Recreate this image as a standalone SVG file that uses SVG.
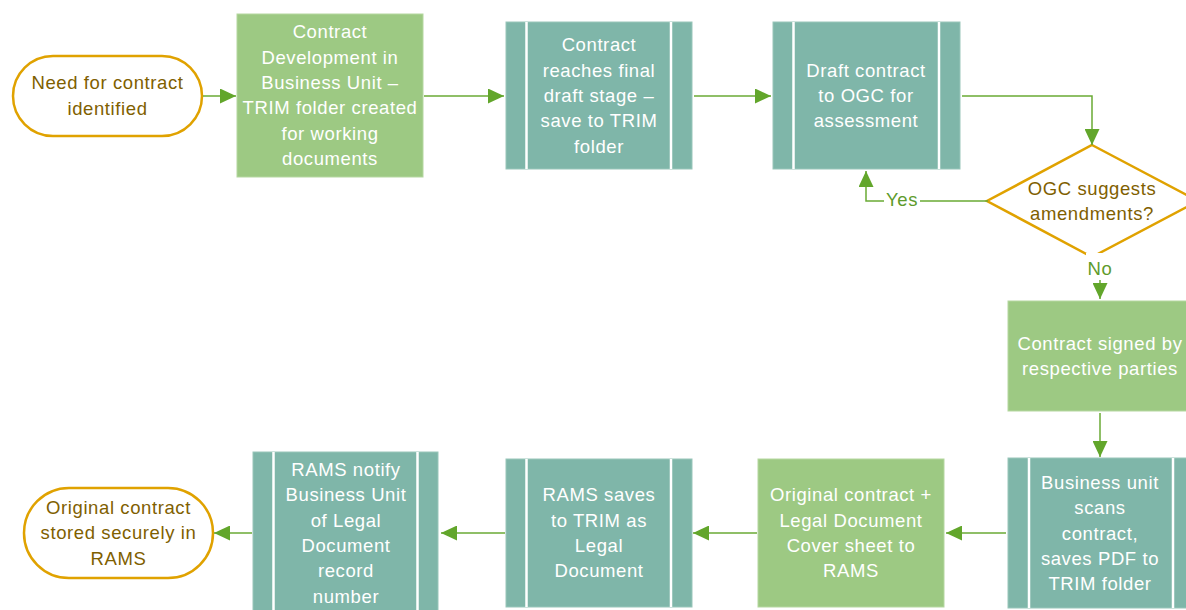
<svg xmlns="http://www.w3.org/2000/svg" width="1186" height="610" viewBox="0 0 1186 610">
<defs>
<style>
text{font-family:"Liberation Sans",Arial,sans-serif;font-size:18.5px;letter-spacing:0.6px;text-anchor:middle}
.w{fill:#ffffff}
.b{fill:#7F6000}
.g{fill:#5E9B2C}
.term{fill:#ffffff;stroke:#E0A200;stroke-width:2.5}
.dec{fill:#ffffff;stroke:#E0A200;stroke-width:2.5}
.proc{fill:#9DC983;stroke:#B5D7A0;stroke-width:1}
.pre{fill:#7FB6A9;stroke:#99C6BA;stroke-width:1}
.sep{stroke:#ffffff;stroke-width:2.5}
.con{fill:none;stroke:#6AAA35;stroke-width:1.5}
</style>
<marker id="ah" markerUnits="userSpaceOnUse" markerWidth="16" markerHeight="15" refX="16" refY="7.5" orient="auto">
<path d="M0,0 L16,7.5 L0,15 z" fill="#62A62B"/>
</marker>
</defs>
<rect width="1186" height="610" fill="#ffffff"/>

<g id="n1">
<rect class="term" x="13" y="56" width="189" height="80" rx="40" ry="40"/>
<text class="b" x="107.5" y="89">Need for contract</text>
<text class="b" x="107.5" y="114.5">identified</text>
</g>

<g id="n2">
<rect class="proc" x="237" y="14" width="186" height="163"/>
<text class="w" x="330" y="38">Contract</text>
<text class="w" x="330" y="63.5">Development in</text>
<text class="w" x="330" y="89">Business Unit –</text>
<text class="w" x="330" y="114">TRIM folder created</text>
<text class="w" x="330" y="139.5">for working</text>
<text class="w" x="330" y="165">documents</text>
</g>

<g id="n3">
<rect class="pre" x="506" y="22" width="186" height="147"/>
<line class="sep" x1="526.5" y1="22" x2="526.5" y2="169"/>
<line class="sep" x1="671" y1="22" x2="671" y2="169"/>
<text class="w" x="599" y="51">Contract</text>
<text class="w" x="599" y="76.5">reaches final</text>
<text class="w" x="599" y="102">draft stage –</text>
<text class="w" x="599" y="127">save to TRIM</text>
<text class="w" x="599" y="152.5">folder</text>
</g>

<g id="n4">
<rect class="pre" x="773" y="22" width="187" height="147"/>
<line class="sep" x1="793.5" y1="22" x2="793.5" y2="169"/>
<line class="sep" x1="939" y1="22" x2="939" y2="169"/>
<text class="w" x="866" y="76.5">Draft contract</text>
<text class="w" x="866" y="102">to OGC for</text>
<text class="w" x="866" y="127">assessment</text>
</g>

<g id="n5">
<polygon class="dec" points="1092,145 1198,201 1092,257 987,201"/>
<text class="b" x="1092" y="195">OGC suggests</text>
<text class="b" x="1092" y="220">amendments?</text>
</g>

<g id="n6">
<rect class="proc" x="1008" y="301" width="184" height="110"/>
<text class="w" x="1100" y="350">Contract signed by</text>
<text class="w" x="1100" y="375">respective parties</text>
</g>

<g id="n7">
<rect class="pre" x="1008" y="458" width="184" height="150"/>
<line class="sep" x1="1029" y1="458" x2="1029" y2="608"/>
<line class="sep" x1="1173" y1="458" x2="1173" y2="608"/>
<text class="w" x="1100" y="489">Business unit</text>
<text class="w" x="1100" y="514">scans</text>
<text class="w" x="1100" y="539.5">contract,</text>
<text class="w" x="1100" y="565">saves PDF to</text>
<text class="w" x="1100" y="590">TRIM folder</text>
</g>

<g id="n8">
<rect class="proc" x="758" y="459" width="186" height="148"/>
<text class="w" x="851" y="501">Original contract +</text>
<text class="w" x="851" y="526.5">Legal Document</text>
<text class="w" x="851" y="552">Cover sheet to</text>
<text class="w" x="851" y="577">RAMS</text>
</g>

<g id="n9">
<rect class="pre" x="506" y="459" width="186" height="148"/>
<line class="sep" x1="526.5" y1="459" x2="526.5" y2="607"/>
<line class="sep" x1="671" y1="459" x2="671" y2="607"/>
<text class="w" x="599" y="501">RAMS saves</text>
<text class="w" x="599" y="526.5">to TRIM as</text>
<text class="w" x="599" y="552">Legal</text>
<text class="w" x="599" y="577">Document</text>
</g>

<g id="n10">
<rect class="pre" x="253" y="452" width="185" height="162"/>
<line class="sep" x1="273.5" y1="452" x2="273.5" y2="614"/>
<line class="sep" x1="417.5" y1="452" x2="417.5" y2="614"/>
<text class="w" x="346" y="475.5">RAMS notify</text>
<text class="w" x="346" y="501">Business Unit</text>
<text class="w" x="346" y="526.5">of Legal</text>
<text class="w" x="346" y="552">Document</text>
<text class="w" x="346" y="577">record</text>
<text class="w" x="346" y="602.5">number</text>
</g>

<g id="n11">
<rect class="term" x="24" y="488" width="189" height="90" rx="45" ry="45"/>
<text class="b" x="118.5" y="514">Original contract</text>
<text class="b" x="118.5" y="539">stored securely in</text>
<text class="b" x="118.5" y="564.5">RAMS</text>
</g>

<g id="connectors">
<line class="con" x1="203" y1="96" x2="236" y2="96" marker-end="url(#ah)"/>
<line class="con" x1="424" y1="96" x2="504" y2="96" marker-end="url(#ah)"/>
<line class="con" x1="694" y1="96" x2="771" y2="96" marker-end="url(#ah)"/>
<polyline class="con" points="962,96 1092,96 1092,145" marker-end="url(#ah)"/>
<polyline class="con" points="988,201 866,201 866,171" marker-end="url(#ah)"/>
<line class="con" x1="1100" y1="258" x2="1100" y2="299" marker-end="url(#ah)"/>
<line class="con" x1="1100" y1="413" x2="1100" y2="457" marker-end="url(#ah)"/>
<line class="con" x1="1006" y1="533" x2="946" y2="533" marker-end="url(#ah)"/>
<line class="con" x1="757" y1="533" x2="693" y2="533" marker-end="url(#ah)"/>
<line class="con" x1="505" y1="533" x2="441" y2="533" marker-end="url(#ah)"/>
<line class="con" x1="252" y1="533" x2="214" y2="533" marker-end="url(#ah)"/>
<rect x="884" y="190" width="36" height="20" fill="#ffffff"/>
<text class="g" x="902" y="206">Yes</text>
<rect x="1086" y="253" width="28" height="27" fill="#ffffff"/>
<text class="g" x="1100" y="275">No</text>
</g>
</svg>
